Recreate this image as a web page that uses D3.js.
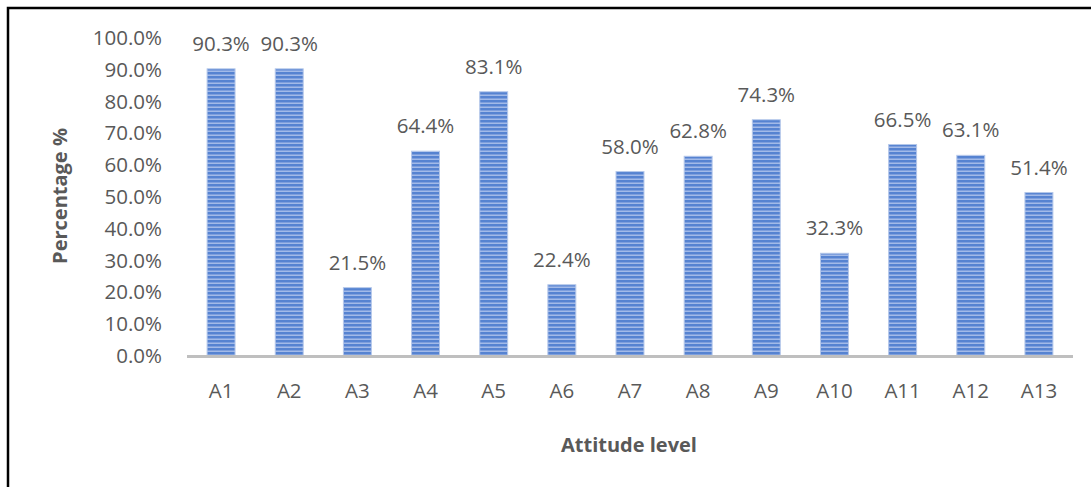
<!DOCTYPE html>
<html>
<head>
<meta charset="utf-8">
<script src="https://cdn.jsdelivr.net/npm/d3@7"></script>
<style>
    body { margin: 0; background: #fff; overflow: hidden; }
    svg { display: block; }
    text { font-family: "Open Sans", sans-serif; fill: #595959; }
</style>
</head>
<body>
<div id="chart"></div>
<script>
// categories and values
const categories = ['A1', 'A2', 'A3', 'A4', 'A5', 'A6', 'A7', 'A8', 'A9', 'A10', 'A11', 'A12', 'A13']
const percentages = [90.3, 90.3, 21.5, 64.4, 83.1, 22.4, 58.0, 62.8, 74.3, 32.3, 66.5, 63.1, 51.4]
const yTicks = [0, 10, 20, 30, 40, 50, 60, 70, 80, 90, 100]

const width = 1091,
    height = 487
const margin = { top: 38, right: 18, bottom: 131, left: 187 }

const svg = d3.select('#chart')
    .append('svg')
    .attr('width', width)
    .attr('height', height)

// striped fill like the office chart
const defs = svg.append('defs')
const pattern = defs.append('pattern')
    .attr('id', 'stripes')
    .attr('patternUnits', 'userSpaceOnUse')
    .attr('width', 6)
    .attr('height', 4)
pattern.append('rect').attr('width', 6).attr('height', 4).attr('fill', '#5683d1')
pattern.append('rect').attr('y', 2).attr('width', 6).attr('height', 1).attr('fill', '#7e9fdd')
pattern.append('rect').attr('y', 3).attr('width', 6).attr('height', 1).attr('fill', '#a2bae8')

// outer frame: only top and left edges are inside the picture
svg.append('path')
    .attr('d', 'M8,' + height + 'V8H' + width)
    .attr('fill', 'none')
    .attr('stroke', '#000')
    .attr('stroke-width', 2.5)

const x = d3.scaleBand()
    .domain(categories)
    .range([margin.left, width - margin.right])
    .paddingInner(0.59)
    .paddingOuter(0.295)

const y = d3.scaleLinear()
    .domain([0, 100])
    .range([height - margin.bottom, margin.top])

const data = categories.map((c, i) => ({ name: c, value: percentages[i] }))

// bars
svg.append('g')
    .selectAll('rect')
    .data(data)
    .enter()
    .append('rect')
    .attr('x', d => x(d.name))
    .attr('y', d => y(d.value))
    .attr('width', x.bandwidth())
    .attr('height', d => y(0) - y(d.value))
    .attr('fill', 'url(#stripes)')
    .attr('stroke', '#b4c7ea')
    .attr('stroke-width', 1)

// value labels
svg.append('g')
    .selectAll('text')
    .data(data)
    .enter()
    .append('text')
    .attr('x', d => x(d.name) + x.bandwidth() / 2)
    .attr('y', d => y(d.value) - 18)
    .attr('text-anchor', 'middle')
    .style('font-size', '20.5px')
    .text(d => d.value.toFixed(1) + '%')

// y axis labels, no line
const yAxis = svg.append('g')
    .attr('transform', 'translate(' + (margin.left - 25) + ',0)')
    .call(d3.axisLeft(y).tickValues(yTicks).tickSize(0).tickPadding(0).tickFormat(d => d.toFixed(1) + '%'))
yAxis.select('.domain').remove()
yAxis.selectAll('text')
    .style('font-size', '20.5px')
    .style('font-family', '"Open Sans", sans-serif')
    .attr('fill', '#595959')

// baseline
svg.append('line')
    .attr('x1', margin.left)
    .attr('x2', width - margin.right)
    .attr('y1', y(0) + 0.5)
    .attr('y2', y(0) + 0.5)
    .attr('stroke', '#bfbfbf')
    .attr('stroke-width', 3)

// x axis labels
const xAxis = svg.append('g')
    .attr('transform', 'translate(0,' + (y(0) + 27) + ')')
    .call(d3.axisBottom(x).tickSize(0).tickPadding(0))
xAxis.select('.domain').remove()
xAxis.selectAll('text')
    .style('font-size', '20.5px')
    .style('font-family', '"Open Sans", sans-serif')
    .attr('fill', '#595959')

// axis titles
svg.append('text')
    .attr('transform', 'translate(67,196) rotate(-90)')
    .attr('text-anchor', 'middle')
    .style('font-size', '20px')
    .style('font-weight', 'bold')
    .text('Percentage %')

svg.append('text')
    .attr('x', 629)
    .attr('y', 452)
    .attr('text-anchor', 'middle')
    .style('font-size', '20px')
    .style('font-weight', 'bold')
    .text('Attitude level')
</script>
</body>
</html>
